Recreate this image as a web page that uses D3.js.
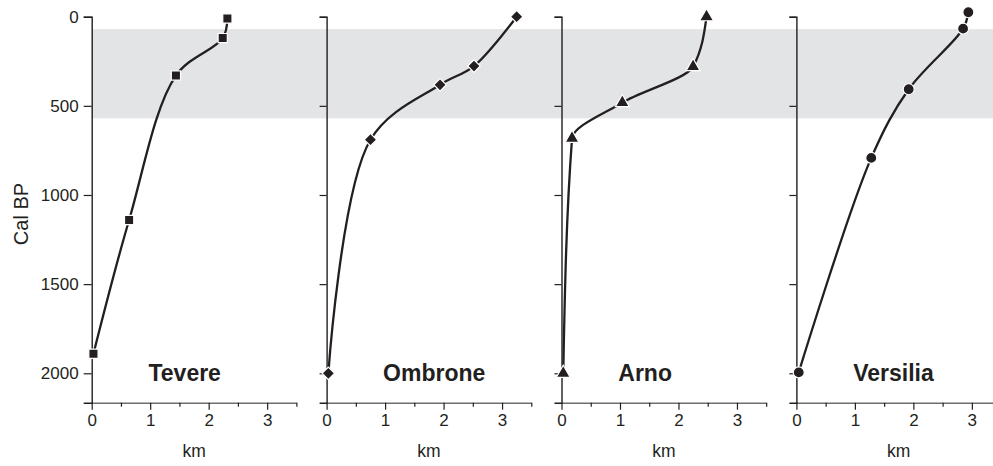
<!DOCTYPE html>
<html><head><meta charset="utf-8">
<script src="https://cdn.jsdelivr.net/npm/d3@7"></script>
<style>body{margin:0;background:#fff}svg{display:block}text{font-family:"Liberation Sans",Arial,sans-serif}</style>
</head><body>
<svg id="c" width="993" height="466"></svg>
<script>
// ---- data ----
const panels = ["Tevere", "Ombrone", "Arno", "Versilia"];
const symbols = ["square", "diamond", "triangle", "circle"];
const teverekm = [2.32, 2.24, 1.44, 0.64, 0.03];
const tevereBP = [10, 120, 330, 1140, 1890];
const ombronekm = [3.25, 2.52, 1.94, 0.75, 0.03];
const ombroneBP = [0, 277, 382, 690, 2000];
const arnokm = [2.48, 2.25, 1.04, 0.18, 0.03];
const arnoBP = [0, 280, 482, 682, 2000];
const versiliakm = [2.94, 2.85, 1.92, 1.28, 0.04];
const versiliaBP = [-25, 67, 407, 792, 1995];
const bandBP = [70, 570];
const yTicks = [0, 500, 1000, 1500, 2000];
const xTicks = [0, 0.5, 1, 1.5, 2, 2.5, 3, 3.5];
const labelKm = [1.59, 1.84, 1.43, 1.66];
const yTitle = "Cal BP";
const xTitle = "km";

const series = [
  teverekm.map((k, i) => ({km: k, bp: tevereBP[i]})),
  ombronekm.map((k, i) => ({km: k, bp: ombroneBP[i]})),
  arnokm.map((k, i) => ({km: k, bp: arnoBP[i]})),
  versiliakm.map((k, i) => ({km: k, bp: versiliaBP[i]}))
];

// ---- layout ----
const svg = d3.select("#c");
const ink = "#231f20";
const left0 = 91.7, step = 234.9, pw = 204.7;
const y = d3.scaleLinear().domain([0, 2165]).range([16.7, 402.7]);
const axisY = y(2165);
const fs = 17;
const curves = [d3.curveCatmullRom.alpha(0.5), d3.curveCatmullRom.alpha(0.5),
                d3.curveMonotoneY, d3.curveCatmullRom.alpha(0.5)];

// band
svg.append("rect")
  .attr("x", left0).attr("y", y(bandBP[0]))
  .attr("width", 993 - left0).attr("height", y(bandBP[1]) - y(bandBP[0]))
  .attr("fill", "#e3e4e5");

const symMap = {
  square: {type: d3.symbolSquare, size: 85, rot: 0},
  diamond: {type: d3.symbolSquare, size: 78, rot: 45},
  triangle: {type: d3.symbolTriangle, size: 85, rot: 0},
  circle: {type: d3.symbolCircle, size: 95, rot: 0}
};

panels.forEach((name, p) => {
  const x0 = left0 + p * step;
  const x = d3.scaleLinear().domain([0, 3.5]).range([x0, x0 + pw]);
  const g = svg.append("g");

  // x axis
  const xa = g.append("g").attr("transform", `translate(0,${axisY})`)
    .call(d3.axisBottom(x).tickValues(xTicks).tickSizeOuter(0)
      .tickFormat(d => Number.isInteger(d) ? d : ""));
  xa.select(".domain").attr("stroke", "#6d6e71").attr("stroke-width", 1.5);
  xa.selectAll(".tick line").attr("stroke", ink).attr("stroke-width", 1.2)
    .attr("y2", d => Number.isInteger(d) ? 7 : 4);
  xa.selectAll(".tick text").attr("y", 11.5).attr("dy", "0.71em")
    .attr("font-size", fs).attr("fill", ink)
    .attr("font-family", "Liberation Sans, Arial, sans-serif");

  g.append("text").attr("x", x(1.75)).attr("y", 457)
    .attr("text-anchor", "middle").attr("font-size", 17.5).attr("fill", ink).text(xTitle);

  // y axis
  const ya = g.append("g").attr("transform", `translate(${x0},0)`)
    .call(d3.axisLeft(y).tickValues(yTicks).tickSizeOuter(0)
      .tickSize(p === 0 ? 8 : 7)
      .tickFormat(p === 0 ? d3.format("d") : () => ""));
  ya.select(".domain").attr("stroke", ink).attr("stroke-width", 1.4);
  ya.selectAll(".tick line").attr("stroke", ink).attr("stroke-width", 1.2);
  ya.selectAll(".tick text").attr("x", -13).attr("font-size", fs).attr("fill", ink)
    .attr("font-family", "Liberation Sans, Arial, sans-serif");

  // curve
  const line = d3.line().x(d => x(d.km)).y(d => y(d.bp)).curve(curves[p]);
  g.append("path").datum(series[p]).attr("d", line)
    .attr("fill", "none").attr("stroke", ink).attr("stroke-width", 2.3);

  const s = symMap[symbols[p]];
  g.selectAll("path.m").data(series[p]).join("path").attr("class", "m")
    .attr("d", d3.symbol().type(s.type).size(s.size))
    .attr("transform", d => `translate(${x(d.km)},${y(d.bp)}) rotate(${s.rot})`)
    .attr("fill", ink).attr("stroke", "#fff").attr("stroke-width", 1.2);

  // panel label
  g.append("text").attr("x", x(labelKm[p])).attr("y", 381)
    .attr("text-anchor", "middle").attr("font-size", 23).attr("font-weight", "bold")
    .attr("fill", ink).text(name);
});

svg.append("text").attr("transform", "translate(28,214) rotate(-90)")
  .attr("text-anchor", "middle").attr("font-size", 20).attr("fill", ink).text(yTitle);
</script>
</body></html>
